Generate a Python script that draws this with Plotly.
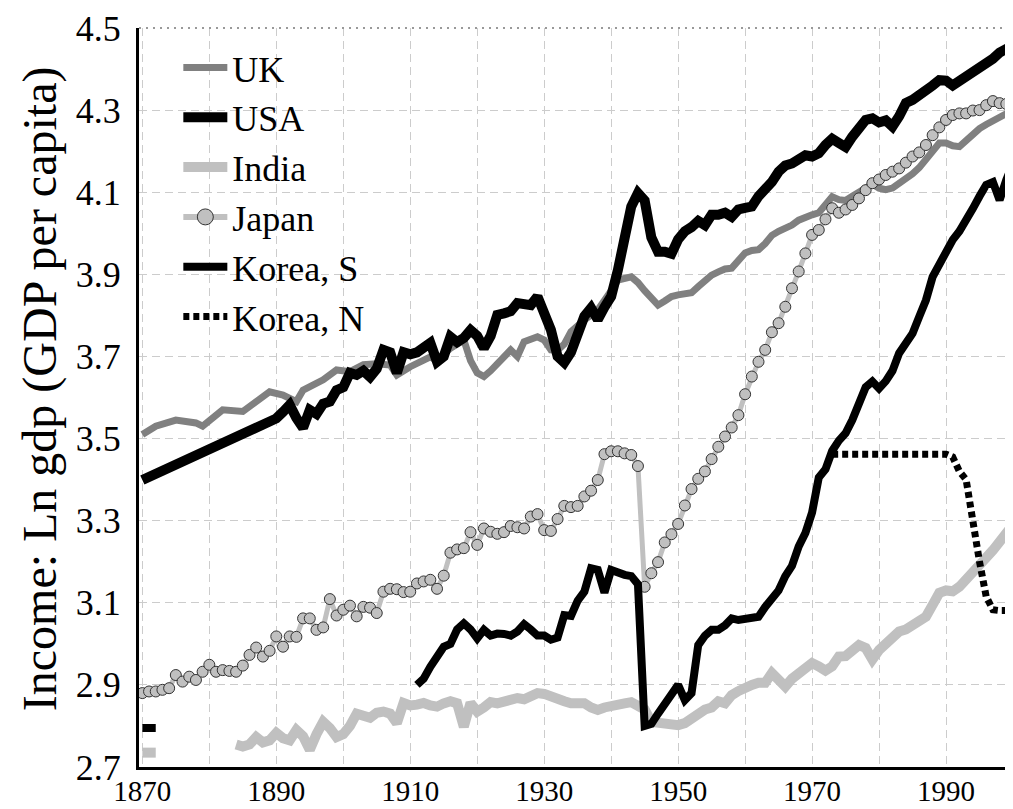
import plotly.graph_objects as go

# ---------------- data (log10 GDP per capita) ----------------
uk_years = [1870, 1872, 1875, 1878, 1879, 1882, 1885, 1889, 1891, 1893, 1894, 1897, 1899, 1901, 1903, 1905,
            1907, 1908, 1910, 1913, 1914, 1916, 1918, 1919, 1920, 1921, 1922, 1924, 1925, 1926, 1927, 1929,
            1930, 1931, 1932, 1933, 1934, 1936, 1937, 1938, 1940, 1941, 1943, 1944, 1945, 1946, 1947, 1948,
            1949, 1950, 1951, 1952, 1953, 1954, 1955, 1956, 1957, 1958, 1959, 1960, 1961, 1962, 1963, 1964,
            1965, 1966, 1967, 1968, 1969, 1970, 1971, 1972, 1973, 1974, 1975, 1976, 1977, 1978, 1979, 1980,
            1981, 1982, 1983, 1984, 1985, 1986, 1987, 1988, 1989, 1990, 1991, 1992, 1993, 1994, 1995, 1996,
            1997, 1998, 1999, 2000]
uk_vals = [3.51, 3.53, 3.545, 3.538, 3.53, 3.57, 3.566, 3.614, 3.606, 3.59, 3.618, 3.643, 3.667, 3.663, 3.68, 3.682,
           3.679, 3.655, 3.675, 3.699, 3.69, 3.72, 3.74, 3.69, 3.66, 3.651, 3.665, 3.70, 3.716, 3.70, 3.736, 3.748,
           3.74, 3.716, 3.715, 3.73, 3.76, 3.789, 3.80, 3.813, 3.86, 3.886, 3.894, 3.88, 3.86, 3.84, 3.825, 3.835,
           3.846, 3.85, 3.853, 3.855, 3.87, 3.885, 3.898, 3.906, 3.913, 3.915, 3.935, 3.952, 3.958, 3.96, 3.975, 3.995,
           4.005, 4.012, 4.02, 4.032, 4.04, 4.045, 4.05, 4.07, 4.089, 4.082, 4.08, 4.09, 4.10, 4.114, 4.12, 4.11,
           4.106, 4.11, 4.12, 4.13, 4.145, 4.16, 4.179, 4.20, 4.22, 4.22, 4.213, 4.211, 4.225, 4.244, 4.255, 4.265,
           4.275, 4.285, 4.292, 4.30]

usa_years = [1870, 1880, 1889, 1890, 1891, 1892, 1893, 1894, 1895, 1896, 1897, 1898, 1899, 1900, 1901, 1902,
             1903, 1904, 1905, 1906, 1907, 1908, 1909, 1910, 1911, 1912, 1913, 1914, 1915, 1916, 1917, 1918,
             1919, 1920, 1921, 1922, 1923, 1924, 1925, 1926, 1927, 1928, 1929, 1930, 1931, 1932, 1933, 1934,
             1935, 1936, 1937, 1938, 1939, 1940, 1941, 1942, 1943, 1944, 1945, 1946, 1947, 1948, 1949, 1950,
             1951, 1952, 1953, 1954, 1955, 1956, 1957, 1958, 1959, 1960, 1961, 1962, 1963, 1964, 1965, 1966,
             1967, 1968, 1969, 1970, 1971, 1972, 1973, 1974, 1975, 1976, 1977, 1978, 1979, 1980, 1981, 1982,
             1983, 1984, 1985, 1986, 1987, 1988, 1989, 1990, 1991, 1992, 1993, 1994, 1995, 1996, 1997, 1998,
             1999, 2000]
usa_vals = [3.399, 3.474, 3.542, 3.549, 3.565, 3.582, 3.55, 3.526, 3.57, 3.56, 3.585, 3.59, 3.618, 3.625, 3.66, 3.655,
            3.665, 3.65, 3.67, 3.716, 3.71, 3.66, 3.71, 3.705, 3.71, 3.72, 3.733, 3.687, 3.70, 3.748, 3.735, 3.745,
            3.764, 3.75, 3.72, 3.75, 3.801, 3.805, 3.81, 3.83, 3.825, 3.825, 3.846, 3.80, 3.765, 3.70, 3.685, 3.71,
            3.75, 3.798, 3.818, 3.79, 3.82, 3.846, 3.91, 3.99, 4.065, 4.098, 4.08, 3.99, 3.955, 3.955, 3.95, 3.985,
            4.005, 4.015, 4.03, 4.02, 4.045, 4.045, 4.05, 4.04, 4.058, 4.062, 4.065, 4.09, 4.105, 4.125, 4.15, 4.165,
            4.17, 4.183, 4.19, 4.187, 4.195, 4.215, 4.23, 4.22, 4.21, 4.235, 4.255, 4.276, 4.28, 4.27, 4.275, 4.26,
            4.285, 4.317, 4.325, 4.335, 4.345, 4.36, 4.373, 4.372, 4.36, 4.37, 4.378, 4.39, 4.40, 4.41, 4.425, 4.44,
            4.45, 4.458]

india_years = [1870, 1872, None] + list(range(1884, 2001))
india_vals = [2.735, 2.735, None,
              2.755, 2.75, 2.755, 2.773, 2.76, 2.765, 2.783, 2.77, 2.765, 2.79, 2.775, 2.742, 2.78, 2.81, 2.795, 2.773,
              2.78, 2.80, 2.83, 2.825, 2.82, 2.832, 2.835, 2.83, 2.807, 2.856, 2.85, 2.852, 2.856, 2.85, 2.847, 2.855,
              2.86, 2.855, 2.798, 2.856, 2.835, 2.845, 2.858, 2.855, 2.86, 2.862, 2.868, 2.865, 2.872, 2.88, 2.878, 2.87,
              2.862, 2.86, 2.855, 2.856, 2.855, 2.845, 2.839, 2.845, 2.85, 2.856, 2.855, 2.858, 2.85, 2.84, 2.81, 2.807,
              2.802, 2.802, 2.802, 2.807, 2.82, 2.832, 2.84, 2.845, 2.86, 2.855, 2.875, 2.885, 2.896, 2.90, 2.905, 2.905,
              2.929, 2.91, 2.896, 2.915, 2.93, 2.94, 2.953, 2.945, 2.935, 2.945, 2.969, 2.97, 2.985, 2.997, 2.99, 2.962,
              2.985, 3.00, 3.01, 3.03, 3.035, 3.045, 3.055, 3.066, 3.095, 3.124, 3.13, 3.128, 3.139, 3.155, 3.17, 3.19,
              3.21, 3.228, 3.25, 3.272, 3.29]

japan_years = list(range(1870, 2001))
japan_vals = [2.880, 2.884, 2.884, 2.888, 2.892, 2.924, 2.908, 2.920, 2.912, 2.932,   # 1870-1879
              2.949, 2.932, 2.936, 2.934, 2.932, 2.947, 2.973, 2.991, 2.969, 2.983,   # 1880-1889
              3.018, 2.993, 3.018, 3.017, 3.062, 3.062, 3.034, 3.040, 3.109, 3.069,   # 1890-1899
              3.083, 3.093, 3.067, 3.090, 3.088, 3.075, 3.127, 3.134, 3.133, 3.126,   # 1900-1909
              3.127, 3.147, 3.152, 3.156, 3.134, 3.166, 3.222, 3.230, 3.233, 3.272,   # 1910-1919
              3.241, 3.281, 3.273, 3.268, 3.272, 3.287, 3.284, 3.281, 3.310, 3.316,   # 1920-1929
              3.277, 3.275, 3.304, 3.336, 3.333, 3.336, 3.359, 3.373, 3.399, 3.462,   # 1930-1939
              3.469, 3.469, 3.464, 3.460, 3.433, 3.139, 3.172, 3.199, 3.247, 3.267,   # 1940-1949
              3.292, 3.337, 3.377, 3.402, 3.420, 3.450, 3.480, 3.505, 3.527, 3.557,   # 1950-1959
              3.608, 3.651, 3.687, 3.716, 3.759, 3.781, 3.821, 3.866, 3.907, 3.951,   # 1960-1969
              3.996, 4.008, 4.034, 4.061, 4.050, 4.058, 4.069, 4.085, 4.105, 4.122,   # 1970-1979
              4.131, 4.142, 4.150, 4.158, 4.172, 4.187, 4.197, 4.215, 4.239, 4.258,   # 1980-1989
              4.276, 4.288, 4.292, 4.292, 4.299, 4.300, 4.312, 4.322, 4.317, 4.315,   # 1990-1999
              4.325]                                                                # 2000

koreas_years = [1870, 1872, None] + list(range(1911, 2001))
koreas_vals = [2.795, 2.795, None,
               2.90, 2.915, 2.944, 2.97, 2.993, 3.0, 3.035, 3.05, 3.035,              # 1911-1919
               3.013, 3.034, 3.02, 3.025, 3.024, 3.02, 3.03, 3.048, 3.035, 3.02,      # 1920-1929
               3.02, 3.01, 3.015, 3.07, 3.068, 3.105, 3.127, 3.184, 3.18, 3.125,      # 1930-1939
               3.18, 3.172, 3.168, 3.165, 3.145, 2.80, 2.805, 2.83, 2.856, 2.88,      # 1940-1949
               2.90, 2.863, 2.88, 2.997, 3.02, 3.034, 3.034, 3.045, 3.062, 3.058,     # 1950-1959
               3.06, 3.06, 3.066, 3.09, 3.11, 3.13, 3.165, 3.19, 3.237, 3.27,         # 1960-1969
               3.32, 3.405, 3.425, 3.47, 3.495, 3.513, 3.545, 3.585, 3.625, 3.639,    # 1970-1979
               3.622, 3.64, 3.665, 3.708, 3.73, 3.756, 3.797, 3.837, 3.894, 3.925,    # 1980-1989
               3.955, 3.984, 4.005, 4.03, 4.06, 4.09, 4.118, 4.125, 4.081, 4.13,      # 1990-1999
               4.17]                                                                  # 2000

korean_years = [1973, 1990, 1991, 1992, 1993, 1994, 1995, 1996, 1997, 1998, 1999, 2000]
korean_vals = [3.462, 3.462, 3.455, 3.42, 3.40, 3.29, 3.20, 3.115, 3.083, 3.081, 3.081, 3.081]

x_tick_vals = [1870, 1890, 1910, 1930, 1950, 1970, 1990]
y_tick_vals = [2.7, 2.9, 3.1, 3.3, 3.5, 3.7, 3.9, 4.1, 4.3, 4.5]
y_tick_text = ["2.7", "2.9", "3.1", "3.3", "3.5", "3.7", "3.9", "4.1", "4.3", "4.5"]

# ---------------- figure ----------------
FONT = "Liberation Serif, Times New Roman, serif"
fig = go.Figure()

fig.add_trace(go.Scatter(x=uk_years, y=uk_vals, name="UK", mode="lines",
                         line=dict(color="#808080", width=7)))
fig.add_trace(go.Scatter(x=usa_years, y=usa_vals, name="USA", mode="lines",
                         line=dict(color="#000000", width=10)))
fig.add_trace(go.Scatter(x=india_years, y=india_vals, name="India", mode="lines",
                         line=dict(color="#c0c0c0", width=10), connectgaps=False))
fig.add_trace(go.Scatter(x=japan_years, y=japan_vals, name="Japan", mode="lines+markers",
                         showlegend=False, legendgroup="jp",
                         line=dict(color="#c0c0c0", width=5),
                         marker=dict(size=11, color="#c0c0c0", line=dict(color="#333333", width=1))))
# legend entry for Japan (larger symbol, no data drawn)
fig.add_trace(go.Scatter(x=[None], y=[None], name="Japan", mode="lines+markers", legendgroup="jp",
                         line=dict(color="#c0c0c0", width=6),
                         marker=dict(size=16, color="#c0c0c0", line=dict(color="#333333", width=1))))
fig.add_trace(go.Scatter(x=koreas_years, y=koreas_vals, name="Korea, S", mode="lines",
                         line=dict(color="#000000", width=8), connectgaps=False))
fig.add_trace(go.Scatter(x=korean_years, y=korean_vals, name="Korea, N", mode="lines",
                         line=dict(color="#000000", width=7, dash="6px,4px")))

grid_col = "#cccccc"
fig.update_xaxes(range=[1869.5, 2000], tickmode="array", tickvals=x_tick_vals, automargin=False,
                 showgrid=True, gridcolor=grid_col, griddash="8px,5px", gridwidth=1,
                 minor=dict(dtick=10, tick0=1870, showgrid=True, gridcolor=grid_col, griddash="8px,5px", gridwidth=1),
                 showline=True, linecolor="black", linewidth=3, zeroline=False, ticks="",
                 ticklabelstandoff=-4,
                 tickfont=dict(family=FONT, size=29, color="black"))
fig.update_yaxes(range=[2.7, 4.5], tickmode="array", tickvals=y_tick_vals, ticktext=y_tick_text,
                 automargin=False,
                 showgrid=True, gridcolor=grid_col, griddash="8px,5px", gridwidth=1,
                 showline=True, linecolor="black", linewidth=3, zeroline=False, ticks="",
                 ticklabelstandoff=8,
                 tickfont=dict(family=FONT, size=36, color="black"))

# dotted top border
fig.add_shape(type="line", xref="paper", yref="paper", x0=0, x1=1, y0=1, y1=1,
              line=dict(color="#999999", width=2, dash="2px,5px"))

fig.add_annotation(text="Income: Ln gdp (GDP per capita)", xref="paper", yref="paper",
                   x=-0.113, y=0.5115, xanchor="center", yanchor="middle",
                   textangle=-90, showarrow=False,
                   font=dict(family=FONT, size=48, color="black"))

# the page body adds an 8px margin, so the figure is 8px smaller than the window
fig.update_layout(width=1005, height=801, plot_bgcolor="white", paper_bgcolor="white",
                  margin=dict(l=131, r=0, t=20, b=42),
                  showlegend=True,
                  legend=dict(x=0.045, y=0.987, xanchor="left", yanchor="top",
                              bgcolor="rgba(0,0,0,0)", borderwidth=0,
                              font=dict(family=FONT, size=36, color="black"),
                              itemwidth=44, tracegroupgap=0))

fig.write_html("out.html")
